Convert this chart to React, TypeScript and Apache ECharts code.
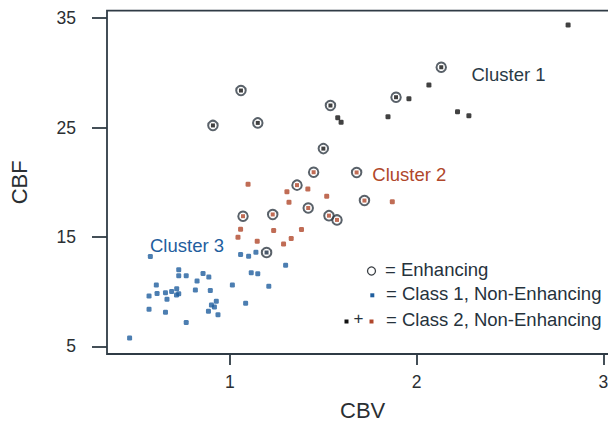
import React, { useEffect, useRef } from "react";
import * as echarts from "echarts";

// CBV (x), CBF (y)
const cluster1Enhancing: number[][] = [
  [0.91, 25.2], [1.06, 28.39], [1.15, 25.43], [1.539, 27.02], [1.501, 23.08], [1.89, 27.78], [2.132, 30.52],
];
const cluster1NonEnhancing: number[][] = [
  [1.578, 25.9], [1.596, 25.5], [2.066, 28.9], [1.959, 27.63], [1.847, 25.99], [2.219, 26.46], [2.28, 26.09], [2.811, 34.39],
];
const cluster2Enhancing: number[][] = [
  [1.36, 19.74], [1.449, 20.92], [1.679, 20.9], [1.721, 18.33], [1.42, 17.65], [1.531, 16.95], [1.574, 16.56], [1.071, 16.9], [1.23, 17.06],
];
const cluster2NonEnhancing: number[][] = [
  [1.098, 19.83], [1.306, 19.13], [1.418, 19.38], [1.519, 18.72], [1.87, 18.22], [1.317, 18.17], [1.058, 15.71],
  [1.235, 15.6], [1.384, 15.69], [1.044, 14.98], [1.147, 14.6], [1.329, 14.87], [1.288, 14.35],
];
const cluster3Enhancing: number[][] = [[1.197, 13.58]];
const cluster3NonEnhancing: number[][] = [
  [0.575, 13.22], [1.058, 13.4], [1.101, 13.23], [1.14, 13.6], [1.299, 12.42], [0.727, 12.01], [0.727, 11.46],
  [0.767, 11.46], [0.857, 11.67], [0.888, 11.34], [0.825, 10.98], [1.115, 11.73], [1.15, 11.64], [1.014, 10.62],
  [1.209, 10.49], [0.607, 10.62], [0.568, 9.6], [0.611, 9.84], [0.656, 9.91], [0.689, 10.02], [0.716, 10.26],
  [0.727, 9.82], [0.715, 9.69], [0.664, 9.3], [0.816, 10.16], [0.896, 10.11], [1.085, 8.94], [0.928, 9.12],
  [0.902, 8.78], [0.918, 8.59], [0.568, 8.39], [0.656, 8.12], [0.886, 8.2], [0.937, 7.89], [0.767, 7.18], [0.464, 5.76],
];
const xTicks = [1, 2, 3];
const yTicks = [5, 15, 25, 35];
const xRange = [0.343, 3.08];
const yRange = [4.3, 35.69];

const FONT = "Liberation Sans";
const BLUE = "#1f5e9e";
const RED = "#b0472b";
const BLACK = "#111111";
const DARK = "#26323c";
const RING = "#2f3a44";

export default function App() {
  const ref = useRef<HTMLDivElement>(null);
  useEffect(() => {
    if (!ref.current) return;
    const chart = echarts.init(ref.current, undefined, { renderer: "svg" });
    const sq = (name: string, data: number[][], color: string) => ({
      name,
      type: "scatter",
      data,
      symbol: "roundRect",
      symbolSize: 5,
      itemStyle: { color },
      silent: true,
    });
    const dot = (name: string, data: number[][], color: string) => ({
      name,
      type: "scatter",
      data,
      symbol: "rect",
      symbolSize: 4,
      itemStyle: { color },
      z: 4,
      silent: true,
    });
    chart.setOption({
      animation: false,
      grid: {
        left: 103,
        top: 10.7,
        right: 640 - (226.7 + (xRange[1] - 1) * 188.3),
        bottom: 70.3,
        show: true,
        borderColor: "#2f3b45",
        borderWidth: 1.8,
        backgroundColor: "#fff",
      },
      xAxis: {
        type: "value",
        min: xRange[0],
        max: xRange[1],
        name: "CBV",
        nameLocation: "middle",
        nameGap: 45,
        nameTextStyle: { fontFamily: FONT, fontSize: 22, color: "#2b2f33" },
        axisLine: { show: false },
        splitLine: { show: false },
        axisTick: { show: true, length: 11, customValues: xTicks, lineStyle: { color: "#2f3b45", width: 1.8 } },
        axisLabel: { customValues: xTicks, margin: 19, fontFamily: FONT, fontSize: 17.5, color: "#2b2f33" },
      },
      yAxis: {
        type: "value",
        min: yRange[0],
        max: yRange[1],
        name: "CBF",
        nameLocation: "middle",
        nameGap: 77,
        nameTextStyle: { fontFamily: FONT, fontSize: 22, color: "#2b2f33" },
        axisLine: { show: false },
        splitLine: { show: false },
        axisTick: { show: true, length: 15, customValues: yTicks, lineStyle: { color: "#2f3b45", width: 1.8 } },
        axisLabel: { customValues: yTicks, margin: 31, fontFamily: FONT, fontSize: 17.5, color: "#2b2f33" },
      },
      series: [
        sq("Class 1, Non-Enhancing", cluster3NonEnhancing, BLUE),
        sq("Class 2, Non-Enhancing (cluster 2)", cluster2NonEnhancing, RED),
        sq("Class 2, Non-Enhancing (cluster 1)", cluster1NonEnhancing, BLACK),
        {
          name: "Enhancing",
          type: "scatter",
          data: [...cluster1Enhancing, ...cluster2Enhancing, ...cluster3Enhancing],
          symbol: "circle",
          symbolSize: 9.5,
          itemStyle: { color: "rgba(255,255,255,0)", borderColor: RING, borderWidth: 2 },
          z: 3,
          silent: true,
        },
        dot("Enhancing cluster 1", cluster1Enhancing, BLACK),
        dot("Enhancing cluster 2", cluster2Enhancing, RED),
        dot("Enhancing cluster 3", cluster3Enhancing, "#1c2d44"),
      ],
      graphic: [
        { type: "text", left: 471.5, top: 75.5 - 11, style: { text: "Cluster 1", font: `18.5px "${FONT}"`, fill: "#2a3a46" } },
        { type: "text", left: 372.3, top: 175.7 - 11, style: { text: "Cluster 2", font: `18.5px "${FONT}"`, fill: RED } },
        { type: "text", left: 150, top: 246.7 - 11, style: { text: "Cluster 3", font: `18.5px "${FONT}"`, fill: BLUE } },
        { type: "circle", shape: { cx: 371.5, cy: 271, r: 4 }, style: { fill: "none", stroke: "#3a3f44", lineWidth: 1.3 } },
        { type: "text", left: 385, top: 270.5 - 11, style: { text: "= Enhancing", font: `18.5px "${FONT}"`, fill: DARK } },
        { type: "rect", shape: { x: 370.3, y: 293.3, width: 4, height: 4 }, style: { fill: BLUE } },
        { type: "text", left: 386, top: 295 - 11, style: { text: "= Class 1, Non-Enhancing", font: `18.5px "${FONT}"`, fill: DARK } },
        { type: "rect", shape: { x: 344.5, y: 319.5, width: 4, height: 4 }, style: { fill: BLACK } },
        { type: "text", left: 353.5, top: 321.3 - 11, style: { text: "+", font: `17px "${FONT}"`, fill: DARK } },
        { type: "rect", shape: { x: 369.5, y: 319.5, width: 4, height: 4 }, style: { fill: RED } },
        { type: "text", left: 386, top: 321.3 - 11, style: { text: "= Class 2, Non-Enhancing", font: `18.5px "${FONT}"`, fill: DARK } },
      ],
    });
    return () => chart.dispose();
  }, []);
  return (
    <div style={{ position: "fixed", left: 0, top: 0, width: 608, height: 426, overflow: "hidden", background: "#fff" }}>
      <div ref={ref} style={{ width: 640, height: 426 }} />
    </div>
  );
}
